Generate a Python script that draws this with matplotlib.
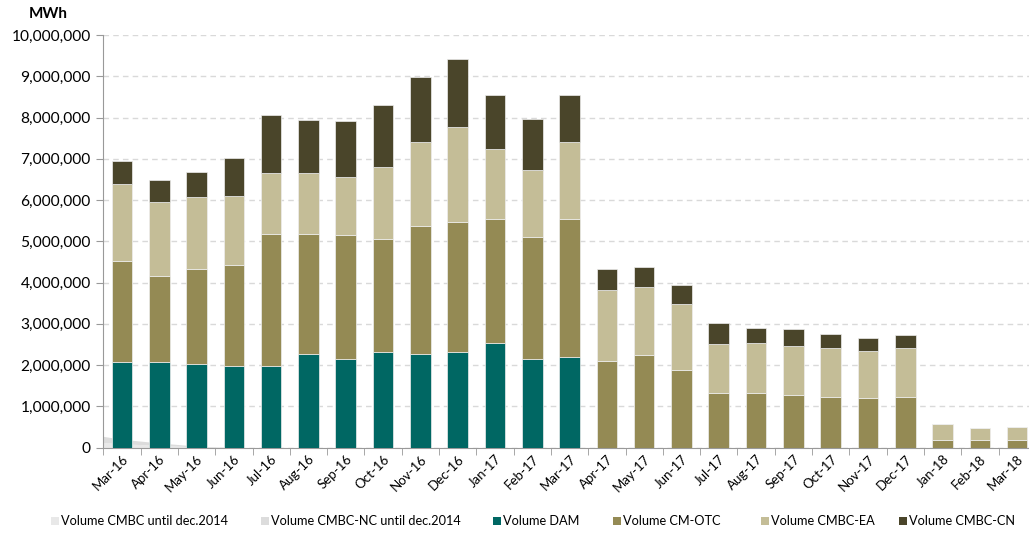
import numpy as np
import matplotlib
matplotlib.use("Agg")
import matplotlib.pyplot as plt
from matplotlib.patches import Rectangle
from matplotlib.ticker import FuncFormatter, MultipleLocator

plt.rcParams["font.family"] = ["Lato", "DejaVu Sans"]

# データ (MWh)
months = ["Mar-16", "Apr-16", "May-16", "Jun-16", "Jul-16", "Aug-16", "Sep-16",
          "Oct-16", "Nov-16", "Dec-16", "Jan-17", "Feb-17", "Mar-17", "Apr-17",
          "May-17", "Jun-17", "Jul-17", "Aug-17", "Sep-17", "Oct-17", "Nov-17",
          "Dec-17", "Jan-18", "Feb-18", "Mar-18"]

vol_dam = [2065000, 2080000, 2030000, 1980000, 1980000, 2260000, 2150000,
           2320000, 2270000, 2320000, 2530000, 2150000, 2190000,
           0, 0, 0, 0, 0, 0, 0, 0, 0, 0, 0, 0]
vol_cm_otc = [2450000, 2070000, 2290000, 2450000, 3200000, 2910000, 3000000,
              2730000, 3100000, 3150000, 3000000, 2950000, 3340000,
              2100000, 2240000, 1890000, 1330000, 1330000, 1280000, 1230000,
              1190000, 1230000, 190000, 170000, 190000]
vol_cmbc_ea = [1880000, 1810000, 1750000, 1670000, 1470000, 1480000, 1410000,
               1760000, 2030000, 2310000, 1700000, 1630000, 1870000,
               1710000, 1660000, 1590000, 1190000, 1200000, 1170000, 1190000,
               1150000, 1180000, 370000, 300000, 310000]
vol_cmbc_cn = [560000, 530000, 600000, 920000, 1420000, 1290000, 1360000,
               1500000, 1580000, 1640000, 1310000, 1230000, 1140000,
               520000, 470000, 450000, 500000, 370000, 420000, 320000,
               310000, 320000, 0, 0, 0]

# 2014年までの系列 (左端から減少する面グラフ)
cmbc_start = 120000
cmbc_nc_start = 150000
vol_cmbc = [90000, 50000, 15000, 0] + [0] * 21
vol_cmbc_nc = [110000, 60000, 20000, 0] + [0] * 21

c_cmbc = "#e8e8e8"
c_nc = "#dcdcdc"
c_dam = "#006763"
c_otc = "#948a54"
c_ea = "#c4bd97"
c_cn = "#4a452a"

fig = plt.figure(figsize=(10.29, 5.33), dpi=100)
ax = fig.add_axes([103.3 / 1029, 85.5 / 533, 932.5 / 1029, 412.5 / 533])

x = np.arange(len(months))
x_area = np.r_[-0.5, x]
a1 = np.r_[cmbc_start, vol_cmbc]
a2 = a1 + np.r_[cmbc_nc_start, vol_cmbc_nc]
ax.fill_between(x_area, 0, a1, color=c_cmbc, lw=0, zorder=1)
ax.fill_between(x_area, a1, a2, color=c_nc, lw=0, zorder=1)

w = 0.55
b = np.zeros(len(months))
for vals, col in [(vol_dam, c_dam), (vol_cm_otc, c_otc),
                  (vol_cmbc_ea, c_ea), (vol_cmbc_cn, c_cn)]:
    v = np.array(vals, dtype=float)
    ax.bar(x, v, w, bottom=b, color=col, edgecolor="#eeeeee", linewidth=0.5,
           zorder=3)
    b += v

ax.set_xlim(-0.5, len(months) - 0.5)
ax.set_ylim(0, 10000000)
ax.yaxis.set_major_locator(MultipleLocator(1000000))
ax.yaxis.set_major_formatter(FuncFormatter(lambda v, p: f"{v:,.0f}"))
ax.grid(axis="y", color="#d9d9d9", linestyle=(0, (4, 3)), linewidth=1, zorder=0)
ax.set_axisbelow(True)

ax.set_xticks(x)
ax.set_xticklabels(months, rotation=45, ha="right", rotation_mode="anchor",
                   fontsize=9.5)
ax.tick_params(axis="x", length=0, pad=4)
ax.set_xticks(np.arange(-0.5, len(months)), minor=True)
ax.tick_params(axis="x", which="minor", length=5, color="#999999", direction="out")
ax.tick_params(axis="y", labelsize=11.2, length=5, color="#999999", pad=4)

for s in ["top", "right"]:
    ax.spines[s].set_visible(False)
ax.spines["left"].set_color("#999999")
ax.spines["bottom"].set_color("#999999")

fig.text(48 / 1029, 1 - 14 / 533, "MWh", fontsize=11, fontweight="bold",
         ha="center", va="center")

# 凡例 (手動配置)
legend_labels = ["Volume CMBC until dec.2014", "Volume CMBC-NC until dec.2014",
                 "Volume DAM", "Volume CM-OTC", "Volume CMBC-EA", "Volume CMBC-CN"]
legend_colors = [c_cmbc, c_nc, c_dam, c_otc, c_ea, c_cn]
legend_x = [51, 261, 493, 613, 761, 899]
ly = 521
for lx, lab, col in zip(legend_x, legend_labels, legend_colors):
    fig.patches.append(Rectangle((lx / 1029, (533 - ly - 4) / 533), 8 / 1029, 8 / 533,
                                 transform=fig.transFigure, color=col, lw=0))
    fig.text((lx + 10) / 1029, 1 - ly / 533, lab, fontsize=9.2,
             ha="left", va="center")

fig.savefig("out.png", dpi=100)
